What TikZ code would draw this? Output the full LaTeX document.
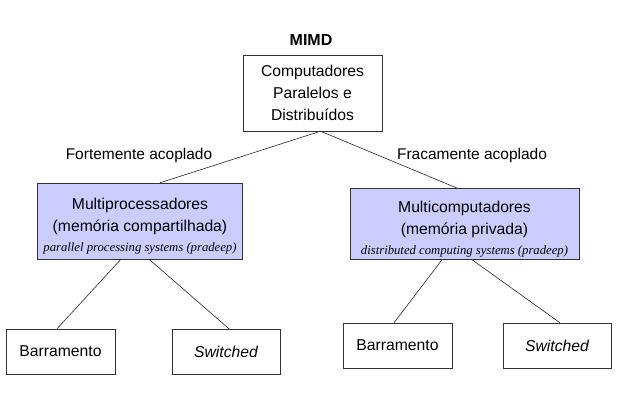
\documentclass[tikz,border=0pt]{standalone}
\usepackage{fontspec}
\setmainfont{Liberation Sans}
\newfontfamily\timesit{Liberation Serif}[ItalicFont=* Italic]
\newcommand{\pradeep}[1]{{\fontsize{12.7}{14}\timesit\itshape #1}}
\begin{document}
\begin{tikzpicture}[x=1pt,y=1pt]
\tikzset{box/.style={draw=black!80,inner sep=0pt,align=center,font=\fontsize{15.7}{22}\selectfont},
lav/.style={box,fill={rgb,255:red,204;green,204;blue,255}},
link/.style={draw=black!85,line width=0.6pt}}
\useasboundingbox (0,0) rectangle (622,-403);
\node (mimd) at (311,-40) {\fontsize{16}{18}\selectfont\bfseries MIMD};
\node [box,minimum width=139,minimum height=76] (top) at (312.5,-93) {Computadores\\Paralelos e\\Distribuídos};
\node [lav,minimum width=205,minimum height=76] (multiproc) at (140,-221) {\rule{0pt}{22pt}Multiprocessadores\\(memória compartilhada)\\[-2pt]\pradeep{parallel processing systems (pradeep)}};
\node [lav,minimum width=229,minimum height=71] (multicomp) at (464.5,-224) {\rule{0pt}{22pt}Multicomputadores\\(memória privada)\\[-2pt]\pradeep{distributed computing systems (pradeep)}};
\node [box,minimum width=109,minimum height=45] (bar1) at (60.5,-351.5) {Barramento};
\node [box,minimum width=108,minimum height=45] (sw1) at (226,-351.5) {\itshape Switched};
\node [box,minimum width=109,minimum height=45] (bar2) at (397.5,-345.5) {Barramento};
\node [box,minimum width=108,minimum height=45] (sw2) at (557,-345.5) {\itshape Switched};
\draw [link] ([xshift=8]top.south) -- ([xshift=20]multiproc.north);
\draw [link] ([xshift=8]top.south) -- ([xshift=-7]multicomp.north);
\draw [link] ([xshift=-19]multiproc.south) -- ([xshift=-3.5]bar1.north);
\draw [link] ([xshift=9]multiproc.south) -- ([xshift=3]sw1.north);
\draw [link] ([xshift=-22.5]multicomp.south) -- ([xshift=-3.5]bar2.north);
\draw [link] ([xshift=7.5]multicomp.south) -- ([xshift=3]sw2.north);
\node [font=\fontsize{15.5}{18}\selectfont] (forte) at (139,-155) {Fortemente acoplado};
\node [font=\fontsize{15.5}{18}\selectfont] (fraca) at (472,-155) {Fracamente acoplado};
\end{tikzpicture}
\end{document}
